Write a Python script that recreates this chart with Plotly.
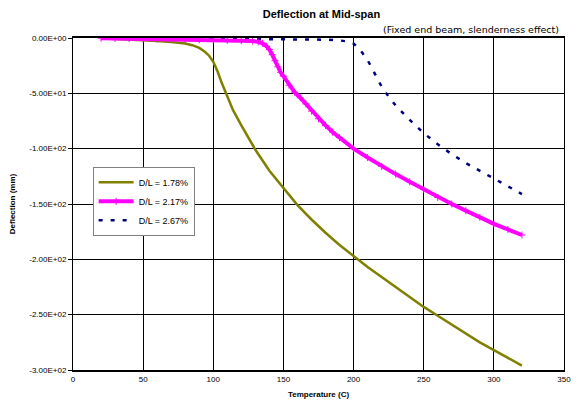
import plotly.graph_objects as go

# Mid-span deflection (mm) against temperature (C) for three span ratios
temp_178 = [20, 30, 40, 50, 60, 70, 80, 85, 90, 94, 97, 100, 103, 106, 109,
            114, 120, 125, 130, 140, 150, 160, 170, 180, 190, 200, 210, 220,
            230, 240, 250, 260, 270, 280, 290, 300, 310, 320]
defl_178 = [-0.3, -0.8, -1.4, -2.1, -2.8, -3.6, -5.0, -6.5, -9.0, -12.4, -16.0,
            -21.5, -30.0, -40.5, -50.0, -65.0, -79.0, -90.0, -101.0, -120.0,
            -136.0, -151.0, -164.0, -176.0, -187.0, -197.0, -207.0, -216.0,
            -225.0, -234.0, -243.0, -251.0, -259.0, -267.0, -275.0, -282.0,
            -289.0, -296.0]

temp_217 = [20, 30, 40, 50, 60, 70, 80, 90, 100, 110, 120, 128, 132, 135, 138,
            140, 142, 144, 146, 148, 150, 154, 158, 162, 166, 170, 175, 180,
            185, 190, 200, 210, 220, 230, 240, 250, 260, 270, 280, 290, 300,
            310, 320]
defl_217 = [-0.2, -0.4, -0.6, -0.8, -1.0, -1.2, -1.4, -1.6, -1.8, -2.1, -2.4,
            -2.7, -3.5, -4.8, -7.5, -10.5, -15.0, -20.5, -26.0, -31.0, -34.5,
            -42.6, -49.0, -54.0, -59.5, -66.0, -73.0, -79.0, -85.0, -90.0,
            -100.0, -108.0, -116.0, -123.0, -130.0, -137.0, -144.0, -150.0,
            -156.0, -162.0, -168.0, -173.0, -178.0]

temp_267 = [20, 50, 100, 150, 180, 190, 195, 200, 203, 206, 210, 213, 216,
            220, 225, 230, 240, 250, 260, 270, 280, 290, 300, 310, 320]
defl_267 = [0.0, -0.2, -0.5, -0.8, -1.5, -2.2, -3.0, -5.0, -8.5, -13.0, -20.0,
            -27.0, -34.0, -44.0, -53.0, -61.0, -74.0, -86.0, -96.0, -105.0,
            -113.0, -120.0, -127.0, -134.0, -141.0]

series_names = ["D/L = 1.78%", "D/L = 2.17%", "D/L = 2.67%"]

x_ticks = [0, 50, 100, 150, 200, 250, 300, 350]
y_ticks = [0, -50, -100, -150, -200, -250, -300]
y_tick_labels = ["0.00E+00", "-5.00E+01", "-1.00E+02", "-1.50E+02",
                 "-2.00E+02", "-2.50E+02", "-3.00E+02"]

FONT = "Liberation Sans, Arial, sans-serif"

fig = go.Figure()

fig.add_trace(go.Scatter(
    x=temp_178, y=defl_178, name=series_names[0], mode="lines",
    line=dict(color="#808000", width=2.5), legendrank=1,
))
fig.add_trace(go.Scatter(
    x=temp_267, y=defl_267, name=series_names[2], mode="lines",
    line=dict(color="#000080", width=2.5, dash="4px,8px"), legendrank=3,
))
fig.add_trace(go.Scatter(
    x=temp_217, y=defl_217, name=series_names[1], mode="lines+markers",
    line=dict(color="#FF00FF", width=4),
    marker=dict(symbol="cross-thin", size=5, line=dict(color="#FF00FF", width=1)),
    legendrank=2,
))

fig.update_layout(
    width=580, height=407,
    margin=dict(l=73, r=9, t=38, b=37),
    paper_bgcolor="white", plot_bgcolor="white",
    font=dict(family=FONT, color="black", size=8),
    title=dict(text="<b>Deflection at Mid-span</b>", x=0.506, xref="paper",
               xanchor="center", y=0.965, yref="container", yanchor="middle",
               font=dict(family=FONT, size=11, color="black")),
    showlegend=True,
    legend=dict(x=0.04, y=0.612, xanchor="left", yanchor="top",
                bgcolor="white", bordercolor="#808080", borderwidth=1,
                font=dict(family=FONT, size=9), itemwidth=35,
                tracegroupgap=0),
    xaxis=dict(range=[0, 350], tickvals=x_ticks, showgrid=True,
               gridcolor="#000000", gridwidth=1, zeroline=False,
               showline=True, linecolor="black", linewidth=2, mirror=True,
               ticks="", tickfont=dict(size=8),
               title=dict(text="<b>Temperature (C)</b>", standoff=9,
                          font=dict(size=8))),
    xaxis2=dict(range=[0, 350], tickvals=x_ticks, overlaying="x", side="top",
                showticklabels=False, ticks="outside", ticklen=4,
                tickcolor="black", tickwidth=1, showgrid=False,
                zeroline=False, showline=False),
    yaxis=dict(range=[-300, 0], tickvals=y_ticks, ticktext=y_tick_labels,
               showgrid=True, gridcolor="#000000", gridwidth=1,
               zeroline=False, showline=True, linecolor="black", linewidth=1,
               mirror=True, ticks="outside", ticklen=4, tickcolor="black",
               tickfont=dict(size=8),
               title=dict(text="<b>Deflection (mm)</b>", standoff=12,
                          font=dict(size=8))),
    annotations=[dict(text="(Fixed end beam, slenderness effect)",
                      x=0.994, xref="paper", y=1.027, yref="paper",
                      xanchor="right", yanchor="middle", showarrow=False,
                      font=dict(family="DejaVu Sans, sans-serif", size=9.5,
                                color="black"))],
)

fig.write_html("out.html")
